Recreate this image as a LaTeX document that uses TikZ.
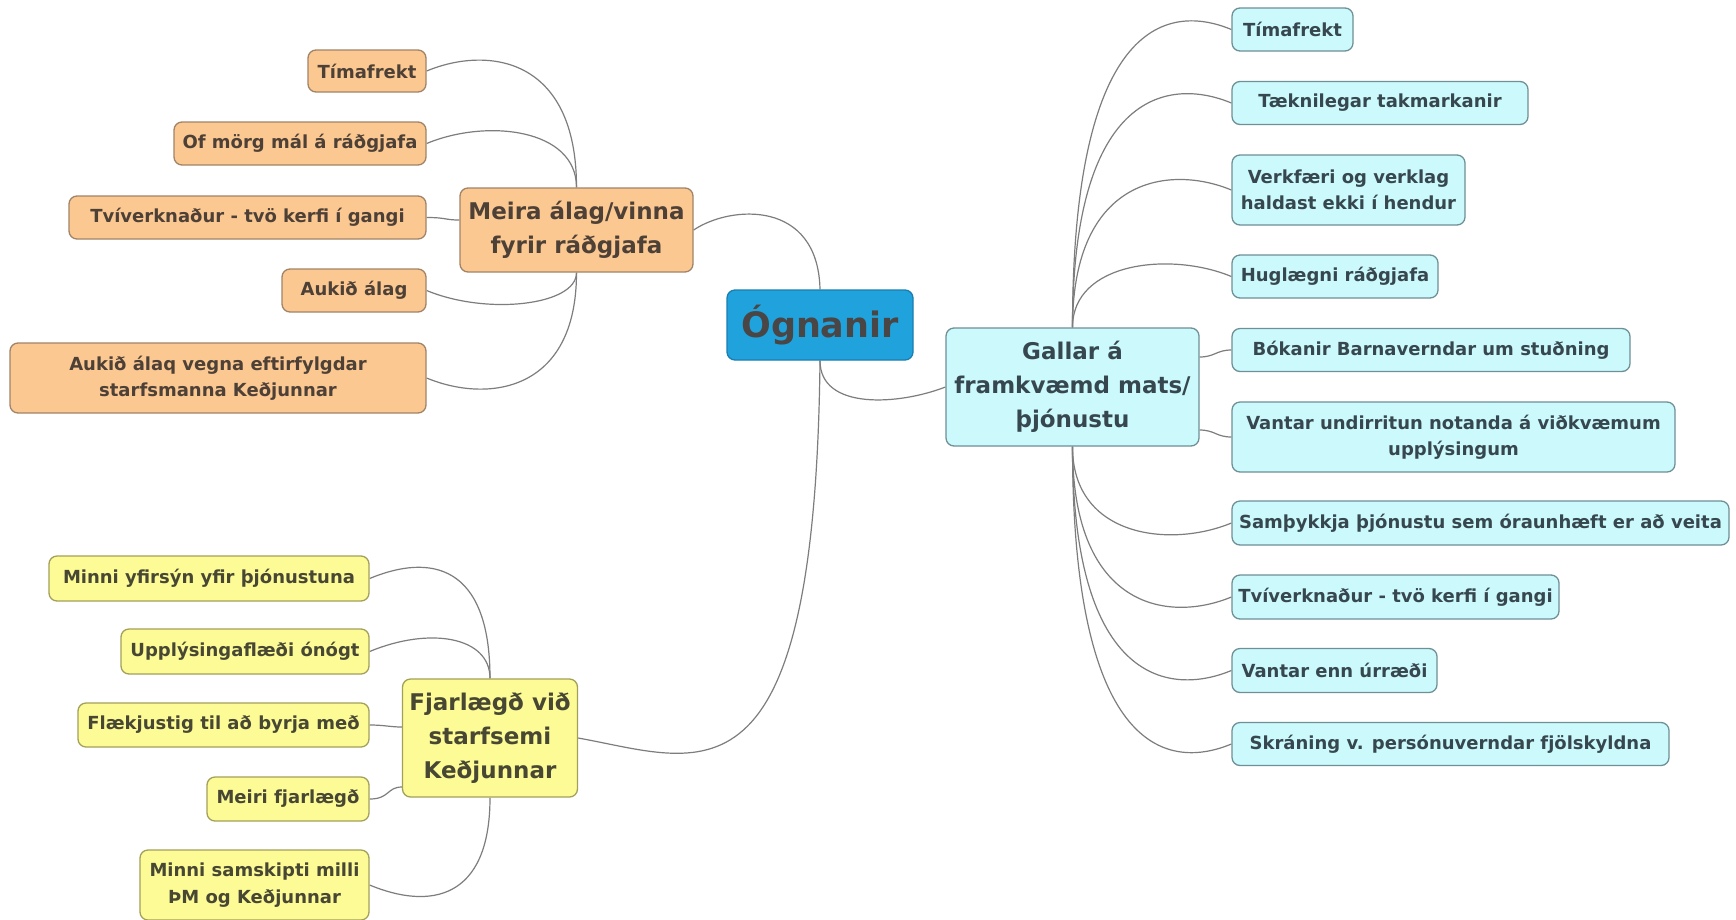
\documentclass[tikz,border=0pt]{standalone}
\usepackage{fontspec}
\setmainfont{DejaVu Sans}
\usetikzlibrary{calc}
\definecolor{orfill}{HTML}{FCC892}
\definecolor{ordraw}{HTML}{A08468}
\definecolor{ortext}{HTML}{4D4036}
\definecolor{blfill}{HTML}{CCFAFC}
\definecolor{bldraw}{HTML}{6E9096}
\definecolor{bltext}{HTML}{37474F}
\definecolor{yefill}{HTML}{FDFB96}
\definecolor{yedraw}{HTML}{A3A05A}
\definecolor{yetext}{HTML}{474733}
\definecolor{cefill}{HTML}{20A3DC}
\definecolor{cedraw}{HTML}{1B7DB0}
\definecolor{cetext}{HTML}{4A4646}
\definecolor{linec}{HTML}{7D7D7D}
\pgfdeclarelayer{bg}
\pgfsetlayers{bg,main}
\tikzset{
  box/.style={rounded corners=8pt, line width=1.3pt, inner sep=0pt, align=center,
    font=\bfseries\fontsize{18}{26.5}\selectfont},
  ob/.style={box, fill=orfill, draw=ordraw, text=ortext},
  bb/.style={box, fill=blfill, draw=bldraw, text=bltext},
  yb/.style={box, fill=yefill, draw=yedraw, text=yetext},
  big/.style={font=\bfseries\fontsize{23}{34}\selectfont},
  conn/.style={draw=linec, line width=1.2pt},
}
\newcommand\rup[2]{\draw[conn] (#1) .. controls ($(#1 |- #2)+(0,-15)$) and +(-60,-25) .. (#2);}
\newcommand\rdown[2]{\draw[conn] (#1) .. controls ($(#1 |- #2)+(0,15)$) and +(-60,25) .. (#2);}
\newcommand\lup[2]{\draw[conn] (#1) .. controls ($(#1 |- #2)+(0,-15)$) and +(60,-25) .. (#2);}
\newcommand\ldown[2]{\draw[conn] (#1) .. controls ($(#1 |- #2)+(0,15)$) and +(60,25) .. (#2);}
\begin{document}
\begin{tikzpicture}[x=1pt,y=-1pt]
\begin{pgfonlayer}{bg}
\fill[white] (0,0) rectangle (1736,919);
\end{pgfonlayer}
\useasboundingbox (0,0) rectangle (1736,919);

% central
\node[box, fill=cefill, draw=cedraw, text=cetext, font=\bfseries\fontsize{35}{40}\selectfont,
  minimum width=186pt, minimum height=70pt] (ogn) at (820,325) {Ógnanir};

% orange branch
\node[ob, big, minimum width=233pt, minimum height=84pt] (meira) at (576.5,230) {Meira álag/vinna\\fyrir ráðgjafa};
\node[ob, minimum width=118pt, minimum height=42pt] (o1) at (367,71) {Tímafrekt};
\node[ob, minimum width=252pt, minimum height=43pt] (o2) at (300,143.5) {Of mörg mál á ráðgjafa};
\node[ob, minimum width=357pt, minimum height=43pt] (o3) at (247.5,217.5) {Tvíverknaður - tvö kerfi í gangi};
\node[ob, minimum width=144pt, minimum height=43pt] (o4) at (354,290.5) {Aukið álag};
\node[ob, minimum width=416pt, minimum height=70pt] (o5) at (218,378) {Aukið álaq vegna eftirfylgdar\\starfsmanna Keðjunnar};

% blue branch
\node[bb, big, minimum width=253pt, minimum height=118pt] (gal) at (1072.5,387) {Gallar á\\framkvæmd mats/\\þjónustu};
\node[bb, minimum width=121pt, minimum height=43pt] (b1) at (1292.5,29.5) {Tímafrekt};
\node[bb, minimum width=296pt, minimum height=43pt] (b2) at (1380,103) {Tæknilegar takmarkanir};
\node[bb, minimum width=233pt, minimum height=70pt] (b3) at (1348.5,190) {Verkfæri og verklag\\haldast ekki í hendur};
\node[bb, minimum width=206pt, minimum height=43pt] (b4) at (1335,276.5) {Huglægni ráðgjafa};
\node[bb, minimum width=398pt, minimum height=43pt] (b5) at (1431,350) {Bókanir Barnaverndar um stuðning};
\node[bb, minimum width=443pt, minimum height=70pt] (b6) at (1453.5,437) {Vantar undirritun notanda á viðkvæmum\\upplýsingum};
\node[bb, minimum width=497pt, minimum height=44pt] (b7) at (1480.5,523) {Samþykkja þjónustu sem óraunhæft er að veita};
\node[bb, minimum width=327pt, minimum height=44pt] (b8) at (1395.5,597) {Tvíverknaður - tvö kerfi í gangi};
\node[bb, minimum width=205pt, minimum height=44pt] (b9) at (1334.5,670.5) {Vantar enn úrræði};
\node[bb, minimum width=437pt, minimum height=43pt] (b10) at (1450.5,744) {Skráning v. persónuverndar fjölskyldna};

% yellow branch
\node[yb, big, minimum width=175pt, minimum height=118pt] (fj) at (490,738) {Fjarlægð við\\starfsemi\\Keðjunnar};
\node[yb, minimum width=320pt, minimum height=45pt] (y1) at (209,578.5) {Minni yfirsýn yfir þjónustuna};
\node[yb, minimum width=248pt, minimum height=45pt] (y2) at (245,651.5) {Upplýsingaflæði ónógt};
\node[yb, minimum width=291pt, minimum height=44pt] (y3) at (223.5,725) {Flækjustig til að byrja með};
\node[yb, minimum width=162pt, minimum height=44pt] (y4) at (288,799) {Meiri fjarlægð};
\node[yb, minimum width=229pt, minimum height=70pt] (y5) at (254.5,885) {Minni samskipti milli\\ÞM og Keðjunnar};

\begin{pgfonlayer}{bg}
% main trunks
\draw[conn] (ogn.north) .. controls +(-2,-90) and +(37,-25) .. (meira.east);
\draw[conn] (ogn.south) .. controls +(0,50) and +(-46,18) .. (gal.west);
\draw[conn] (ogn.south) .. controls +(-5,460) and +(123,22) .. (fj.east);
% orange
\lup{meira.north}{o1.east}
\lup{meira.north}{o2.east}
\draw[conn] (o3.east) .. controls +(20,0) and +(-15,0) .. ($(meira.west)+(0,-10)$);
\ldown{meira.south}{o4.east}
\ldown{meira.south}{o5.east}
% blue
\rup{gal.north}{b1.west}
\rup{gal.north}{b2.west}
\rup{gal.north}{b3.west}
\rup{gal.north}{b4.west}
\draw[conn] ($(gal.east)+(0,-30)$) .. controls +(15,0) and +(-15,0) .. (b5.west);
\draw[conn] ($(gal.east)+(0,43)$) .. controls +(15,0) and +(-15,0) .. (b6.west);
\rdown{gal.south}{b7.west}
\rdown{gal.south}{b8.west}
\rdown{gal.south}{b9.west}
\rdown{gal.south}{b10.west}
% yellow
\lup{fj.north}{y1.east}
\lup{fj.north}{y2.east}
\draw[conn] (y3.east) .. controls +(15,0) and +(-12,0) .. ($(fj.west)+(0,-11)$);
\draw[conn] (y4.east) .. controls +(20,0) and +(-15,0) .. ($(fj.west)+(0,49)$);
\ldown{fj.south}{y5.east}
\end{pgfonlayer}
\end{tikzpicture}
\end{document}
